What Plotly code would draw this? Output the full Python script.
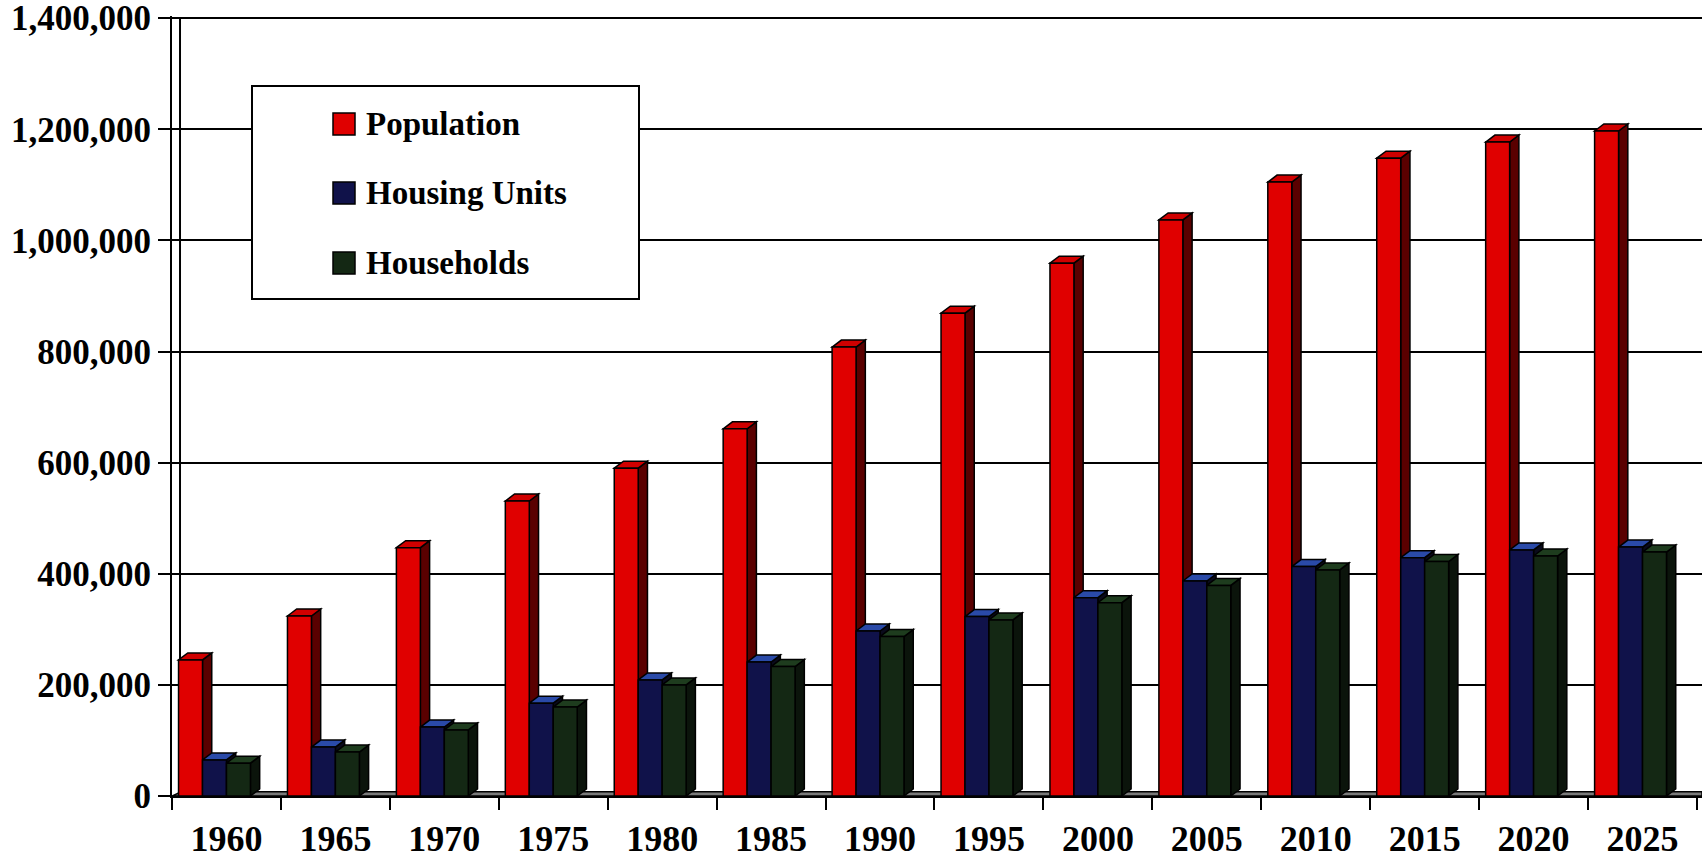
import plotly.graph_objects as go

# ---------------- data ----------------
YEARS = ["1960", "1965", "1970", "1975", "1980", "1985", "1990",
         "1995", "2000", "2005", "2010", "2015", "2020", "2025"]
POPULATION = [245000, 324000, 447000, 531000, 590000, 661000, 808000,
              869000, 959000, 1037000, 1105000, 1148000, 1177000, 1197000]
HOUSING_UNITS = [65000, 88000, 124000, 167000, 209000, 241000, 297000,
                 323000, 357000, 387000, 413000, 429000, 443000, 448000]
HOUSEHOLDS = [59000, 79000, 119000, 160000, 200000, 233000, 287000,
              317000, 348000, 379000, 407000, 422000, 432000, 439000]
SERIES_NAMES = ["Population", "Housing Units", "Households"]
Y_TICKS = [0, 200000, 400000, 600000, 800000, 1000000, 1200000, 1400000]

# ---------------- style ----------------
FRONT = ["#e00000", "#10124a", "#142814"]
SIDE = ["#5a0000", "#0a0a1c", "#0b140b"]
TOP = ["#d00000", "#2a4aa8", "#1e3c1e"]
FONT = "Liberation Serif"

W, H = 1702, 858
ML, MR, MT, MB = 172, 0, 16, 62
BAR_W = 0.22
OFFSETS = [-0.44, -0.22, 0.0]
DEPTH_X = 0.085          # in category units
DEPTH_Y = 12600          # in value units
X_MAX = 14.046
Y_MAX = 1404000

plot_w = W - ML - MR
plot_h = H - MT - MB


def px_to_paper(px, py):
    return (px - ML) / plot_w, (H - MB - py) / plot_h


xs = [i + 0.5 for i in range(len(YEARS))]
series = [POPULATION, HOUSING_UNITS, HOUSEHOLDS]

fig = go.Figure()
shapes = []

# floor
shapes.append(dict(type="path", xref="x", yref="y", layer="between",
                   path=f"M 0,0 L {DEPTH_X},{DEPTH_Y*0.6} L {X_MAX},{DEPTH_Y*0.6} L {X_MAX},0 Z",
                   fillcolor="#7a7a7a", line=dict(color="black", width=1.5)))
# back wall edge line
shapes.append(dict(type="line", xref="x", yref="y", layer="between",
                   x0=0.0735, x1=0.0735, y0=0, y1=Y_TICKS[-1],
                   line=dict(color="black", width=2)))

for k, (name, vals) in enumerate(zip(SERIES_NAMES, series)):
    fig.add_trace(go.Bar(
        x=xs, y=vals, name=name, offset=OFFSETS[k], width=BAR_W,
        marker=dict(color=FRONT[k], line=dict(color="black", width=1.5)),
        showlegend=False,
        hovertemplate="%{y:,}<extra>" + name + "</extra>"))
    for x, v in zip(xs, vals):
        xl = x + OFFSETS[k]
        xr = xl + BAR_W
        side = (f"M {xr},0 L {xr+DEPTH_X},{DEPTH_Y} L {xr+DEPTH_X},{v+DEPTH_Y} "
                f"L {xr},{v} Z")
        top = (f"M {xl},{v} L {xl+DEPTH_X},{v+DEPTH_Y} L {xr+DEPTH_X},{v+DEPTH_Y} "
               f"L {xr},{v} Z")
        shapes.append(dict(type="path", xref="x", yref="y", layer="between",
                           path=side, fillcolor=SIDE[k],
                           line=dict(color="black", width=1.5)))
        shapes.append(dict(type="path", xref="x", yref="y", layer="between",
                           path=top, fillcolor=TOP[k],
                           line=dict(color="black", width=1.5)))

# ---------------- manual legend ----------------
annotations = []
bx0, by0 = px_to_paper(252, 86)
bx1, by1 = px_to_paper(639, 299)
shapes.append(dict(type="rect", xref="paper", yref="paper", layer="above",
                   x0=bx0, x1=bx1, y0=by1, y1=by0, fillcolor="white",
                   line=dict(color="black", width=2)))
legend_rows = [124, 193, 263]
for k, name in enumerate(SERIES_NAMES):
    cy = legend_rows[k]
    mx0, my0 = px_to_paper(333, cy - 11)
    mx1, my1 = px_to_paper(355, cy + 11)
    shapes.append(dict(type="rect", xref="paper", yref="paper", layer="above",
                       x0=mx0, x1=mx1, y0=my1, y1=my0, fillcolor=FRONT[k],
                       line=dict(color="black", width=1.5)))
    tx, ty = px_to_paper(364, cy)
    annotations.append(dict(xref="paper", yref="paper", x=tx, y=ty,
                            xanchor="left", yanchor="middle", showarrow=False,
                            text=name,
                            font=dict(family=FONT, size=33, color="black",
                                      weight="bold")))

fig.update_layout(
    width=W, height=H,
    margin=dict(l=ML, r=MR, t=MT, b=MB, pad=0, autoexpand=False),
    paper_bgcolor="white", plot_bgcolor="white",
    barmode="overlay", showlegend=False,
    shapes=shapes, annotations=annotations,
    xaxis=dict(
        automargin=False, ticklabeloverflow="allow",
        range=[0, X_MAX], tickmode="array", tickvals=xs, ticktext=YEARS,
        ticks="outside", ticklen=10, tickcolor="rgba(0,0,0,0)",
        tickfont=dict(family=FONT, size=36, color="black", weight="bold"),
        showgrid=False, zeroline=False,
        showline=True, linecolor="black", linewidth=2,
        minor=dict(tickmode="array", tickvals=list(range(len(YEARS) + 1)),
                   ticks="outside", ticklen=12, tickwidth=2,
                   tickcolor="black", showgrid=False),
    ),
    yaxis=dict(
        automargin=False, ticklabeloverflow="allow",
        range=[0, Y_MAX], tickmode="array", tickvals=Y_TICKS,
        tickformat=",d", ticks="outside", ticklen=12, tickwidth=2,
        tickcolor="black",
        tickfont=dict(family=FONT, size=35, color="black", weight="bold"),
        showgrid=True, gridcolor="black", gridwidth=2,
        zeroline=False, showline=True, linecolor="black", linewidth=2,
    ),
)

fig.write_html(
    "out.html",
    config={"displayModeBar": False},
    post_script="document.body.style.margin='0';document.body.style.overflow='hidden';",
)
